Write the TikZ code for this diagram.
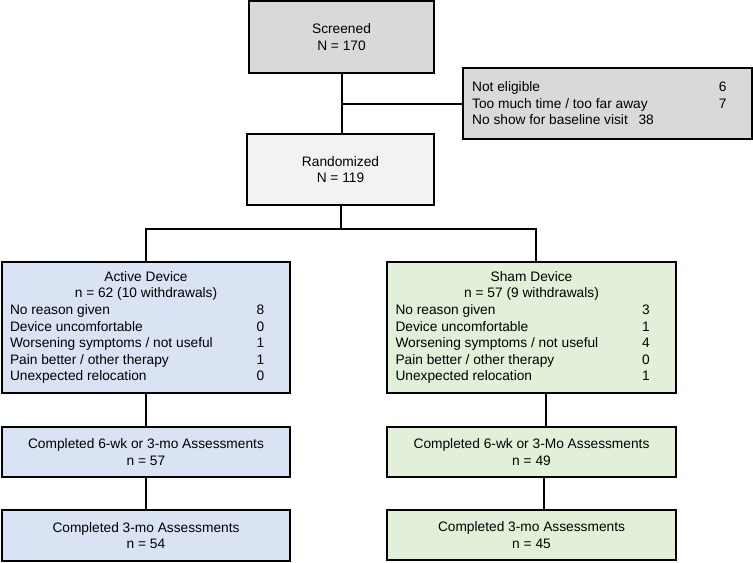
\documentclass[tikz,border=0pt]{standalone}
\usepackage{fontspec}
\setmainfont{Liberation Sans}
\usetikzlibrary{calc}
\definecolor{grayA}{HTML}{D9D9D9}
\definecolor{grayB}{HTML}{F2F2F2}
\definecolor{blueA}{HTML}{DAE3F3}
\definecolor{greenA}{HTML}{E2F0D9}
\newcommand{\rowA}[2]{\makebox[204pt][l]{\makebox[185pt][l]{#1}#2}}
\begin{document}
\begin{tikzpicture}[x=0.75pt,y=-0.75pt,
  box/.style={draw=black, line width=1.8pt, inner sep=0pt, align=center,
    font=\fontsize{10.3}{12.4}\selectfont},
  conn/.style={draw=black, line width=1.5pt}]
\useasboundingbox (0,0) rectangle (753,562);

\node[box, fill=grayA, minimum width=138.75pt, minimum height=54pt] (scr) at (341.5,37) {Screened\\N = 170};
\node[box, fill=grayA, minimum width=216.75pt, minimum height=53.25pt, align=left] (excl) at (607.5,103.5)
  {\makebox[203pt][l]{\makebox[185pt][l]{Not eligible}6}\\
   \makebox[203pt][l]{\makebox[185pt][l]{Too much time / too far away}7}\\
   \makebox[203pt][l]{No show for baseline visit\hspace{8pt}38}};
\node[box, fill=grayB, minimum width=140.25pt, minimum height=53.25pt] (rand) at (340.5,169.5) {Randomized\\N = 119};

\node[box, fill=blueA, minimum width=216pt, minimum height=98.25pt] (act) at (146,327.5)
  {Active Device\\n = 62 (10 withdrawals)\\
   \rowA{No reason given}{8}\\
   \rowA{Device uncomfortable}{0}\\
   \rowA{Worsening symptoms / not useful}{1}\\
   \rowA{Pain better / other therapy}{1}\\
   \rowA{Unexpected relocation}{0}};
\node[box, fill=greenA, minimum width=216.75pt, minimum height=98.25pt] (sham) at (531.5,327.5)
  {Sham Device\\n = 57 (9 withdrawals)\\
   \rowA{No reason given}{3}\\
   \rowA{Device uncomfortable}{1}\\
   \rowA{Worsening symptoms / not useful}{4}\\
   \rowA{Pain better / other therapy}{0}\\
   \rowA{Unexpected relocation}{1}};

\node[box, fill=blueA, minimum width=216pt, minimum height=37.5pt] (ac1) at (146,452) {Completed 6-wk or 3-mo Assessments\\n = 57};
\node[box, fill=blueA, minimum width=216pt, minimum height=38.25pt] (ac2) at (146,535.5) {Completed 3-mo Assessments\\n = 54};
\node[box, fill=greenA, minimum width=216.75pt, minimum height=37.5pt] (sc1) at (531.5,452) {Completed 6-wk or 3-Mo Assessments\\n = 49};
\node[box, fill=greenA, minimum width=216.75pt, minimum height=37.5pt] (sc2) at (531.5,535) {Completed 3-mo Assessments\\n = 45};

\coordinate (split) at (340.5,229);
\coordinate (sn) at ([xshift=3.4pt]sham.north);
\coordinate (ss) at ([xshift=10.9pt]sham.south);
\coordinate (s1s) at ([xshift=9.4pt]sc1.south);

\draw[conn] (scr.south) -- (scr.south |- rand.north);
\draw[conn] (excl.west) -- (excl.west -| scr.south);
\draw[conn] (rand.south) -- (rand.south |- split);
\draw[conn] (act.north) -- (act.north |- split) -- (sn |- split) -- (sn);
\draw[conn] (act.south) -- (ac1.north);
\draw[conn] (ac1.south) -- (ac2.north);
\draw[conn] (ss) -- (ss |- sc1.north);
\draw[conn] (s1s) -- (s1s |- sc2.north);
\end{tikzpicture}
\end{document}
